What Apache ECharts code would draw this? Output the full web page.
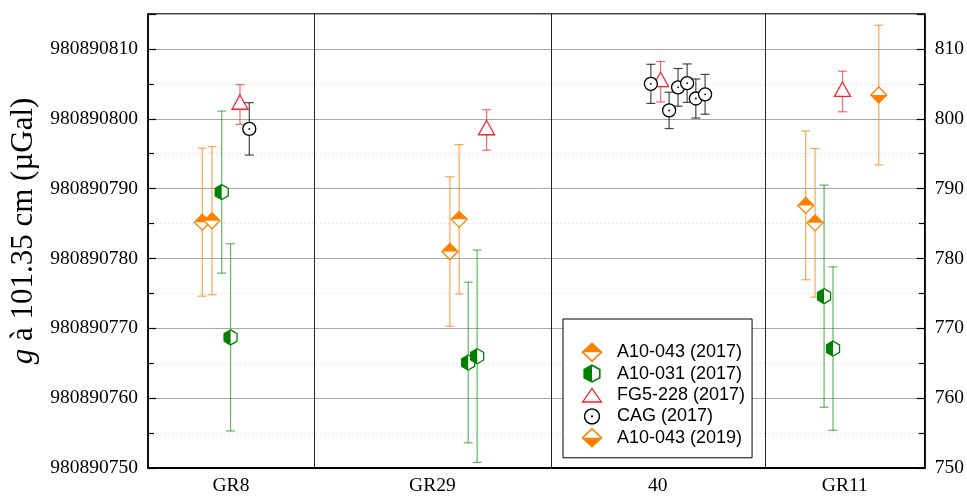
<!DOCTYPE html>
<html>
<head>
<meta charset="utf-8">
<script src="https://cdn.jsdelivr.net/npm/echarts@6/dist/echarts.min.js"></script>
<style>
  html, body { margin: 0; padding: 0; background: #fff; }
  #chart { width: 967px; height: 496px; }
</style>
</head>
<body>
<div id="chart"></div>
<script>
// ---------------- DATA ----------------
const BASE = 980890000;               // left axis = BASE + right-axis value (µGal)
const stations = ['GR8', 'GR29', '40', 'GR11'];
const stationBounds = [0, 21.36, 51.87, 79.41, 100];   // x-extent of each station panel

// A10-043 (2017)
const a043_2017_x = [6.99, 8.24, 38.87, 40.06, 84.68, 85.88];
const a043_2017_y = [785.2, 785.4, 781.0, 785.6, 787.6, 785.1];
const a043_2017_e = [10.6, 10.6, 10.7, 10.7, 10.65, 10.65];
// A10-031 (2017)
const a031_2017_x = [9.49, 10.63, 41.22, 42.38, 87.04, 88.19];
const a031_2017_y = [789.5, 768.7, 765.1, 766.0, 774.6, 767.1];
const a031_2017_e = [11.6, 13.4, 11.5, 15.2, 15.9, 11.7];
// FG5-228 (2017)
const fg5_2017_x = [11.84, 43.59, 65.99, 89.41];
const fg5_2017_y = [802.05, 798.4, 805.3, 803.9];
const fg5_2017_e = [2.85, 2.9, 2.9, 2.9];
// CAG (2017)
const cag_2017_x = [13.04, 64.74, 67.09, 68.24, 69.41, 70.53, 71.72];
const cag_2017_y = [798.55, 805.0, 801.2, 804.5, 805.1, 802.9, 803.5];
const cag_2017_e = [3.75, 2.8, 2.6, 2.7, 2.75, 2.8, 2.85];
// A10-043 (2019)
const a043_2019_x = [94.08];
const a043_2019_y = [803.4];
const a043_2019_e = [10.0];

const yTicks = [750, 760, 770, 780, 790, 800, 810];

// ---------------- HELPERS ----------------
function zip(x, y, e) { return x.map((v, i) => [v, y[i], e[i]]); }

function polyPath(pts) {
  return 'M' + pts.map(p => p[0].toFixed(3) + ' ' + p[1].toFixed(3)).join(' L') + ' Z';
}
// inset a convex polygon (clockwise on screen) by d
function inset(pts, d) {
  const n = pts.length, lines = [];
  for (let i = 0; i < n; i++) {
    const a = pts[i], b = pts[(i + 1) % n];
    const dx = b[0] - a[0], dy = b[1] - a[1], L = Math.hypot(dx, dy);
    const nx = -dy / L, ny = dx / L;
    lines.push({ px: a[0] + nx * d, py: a[1] + ny * d, dx: dx, dy: dy });
  }
  const out = [];
  for (let i = 0; i < n; i++) {
    const l1 = lines[(i - 1 + n) % n], l2 = lines[i];
    const den = l1.dx * l2.dy - l1.dy * l2.dx;
    const t = ((l2.px - l1.px) * l2.dy - (l2.py - l1.py) * l2.dx) / den;
    out.push([l1.px + l1.dx * t, l1.py + l1.dy * t]);
  }
  return out;
}
function ring(outer, d) {
  const inner = inset(outer, d);
  return { path: polyPath(outer) + ' ' + polyPath(inner.slice().reverse()), inner: inner };
}
// legend icons are drawn at 0.8 of the item box, so geometry is laid out 1.25x in a square frame
const ICON = 21.4;
const K = 1.25;
const C = ICON / 2;
const FRAME = 'M0 0 M' + ICON + ' ' + ICON + ' ';

function diamondPts(cx, cy, rx, ry) { return [[cx, cy - ry], [cx + rx, cy], [cx, cy + ry], [cx - rx, cy]]; }
function hexPts(cx, cy, w, h) { return [[cx, cy - h], [cx + w, cy - h / 2], [cx + w, cy + h / 2], [cx, cy + h], [cx - w, cy + h / 2], [cx - w, cy - h / 2]]; }
function triPts(cx, cy, w, up, down) { return [[cx, cy - up], [cx + w, cy + down], [cx - w, cy + down]]; }
function circPts(cx, cy, r, n) { const p = []; for (let i = 0; i < n; i++) { const a = 2 * Math.PI * i / n; p.push([cx + r * Math.cos(a), cy + r * Math.sin(a)]); } return p; }

function iconDiamond(top) {
  const o = diamondPts(C, C, 8.6 * K, 8.0 * K);
  const r = ring(o, 1.35 * K);
  const i = r.inner;
  const half = top ? [i[0], i[1], i[3]] : [i[3], i[1], i[2]];
  return 'path://' + FRAME + r.path + ' ' + polyPath(half);
}
function iconHex() {
  const o = hexPts(C, C, 6.9 * K, 7.4 * K);
  const r = ring(o, 1.3 * K);
  const i = r.inner;
  return 'path://' + FRAME + r.path + ' ' + polyPath([i[0], i[3], i[4], i[5]]);
}
function iconTri() {
  const o = triPts(C, C + 2 * K, 8.5 * K, 8.2 * K, 4.1 * K);
  return 'path://' + FRAME + ring(o, 1.05 * K).path;
}
function iconCirc() {
  const o = circPts(C, C, 6.5 * K, 40);
  return 'path://' + FRAME + ring(o, 1.15 * K).path + ' ' + polyPath(circPts(C, C, 0.9 * K, 12));
}

const LW = 1.3;
function markerShapes(kind, cx, cy, color) {
  const poly = (pts, style) => ({ type: 'polygon', shape: { points: pts }, style: style });
  if (kind === 'diamondTop' || kind === 'diamondBottom') {
    const p = diamondPts(cx, cy, 8, 8);
    const half = kind === 'diamondTop' ? [p[0], p[1], p[3]] : [p[3], p[1], p[2]];
    return [poly(p, { fill: '#fff', stroke: null }), poly(half, { fill: color, stroke: null }), poly(p, { fill: null, stroke: color, lineWidth: LW, lineJoin: 'miter' })];
  }
  if (kind === 'hexLeft') {
    const p = hexPts(cx, cy, 6.5, 7.5);
    const half = [p[0], p[3], p[4], p[5]];
    return [poly(p, { fill: '#fff', stroke: null }), poly(half, { fill: color, stroke: null }), poly(p, { fill: null, stroke: color, lineWidth: LW })];
  }
  if (kind === 'triangle') {
    const p = triPts(cx, cy, 8, 9.5, 4.8);
    return [poly(p, { fill: '#fff', stroke: color, lineWidth: LW })];
  }
  return [
    { type: 'circle', shape: { cx: cx, cy: cy, r: 6.5 }, style: { fill: '#fff', stroke: color, lineWidth: LW } },
    { type: 'circle', shape: { cx: cx, cy: cy, r: 0.9 }, style: { fill: color, stroke: null } }
  ];
}

function makeRender(kind, color, errColor) {
  return function (params, api) {
    const x = api.value(0), y = api.value(1), e = api.value(2);
    const p = api.coord([x, y]);
    const pt = api.coord([x, y + e]);
    const pb = api.coord([x, y - e]);
    const cap = 4.5;
    const es = { stroke: errColor, lineWidth: 1.2 };
    const children = [
      { type: 'line', shape: { x1: p[0], y1: pt[1], x2: p[0], y2: pb[1] }, style: es },
      { type: 'line', shape: { x1: p[0] - cap, y1: pt[1], x2: p[0] + cap, y2: pt[1] }, style: es },
      { type: 'line', shape: { x1: p[0] - cap, y1: pb[1], x2: p[0] + cap, y2: pb[1] }, style: es }
    ].concat(markerShapes(kind, p[0], p[1], color));
    return { type: 'group', children: children };
  };
}

const seriesDefs = [
  { name: 'A10-043 (2017)', data: zip(a043_2017_x, a043_2017_y, a043_2017_e), kind: 'diamondTop', color: '#ff8000', err: 'rgba(255,135,20,0.75)', icon: iconDiamond(true) },
  { name: 'A10-031 (2017)', data: zip(a031_2017_x, a031_2017_y, a031_2017_e), kind: 'hexLeft', color: '#008000', err: 'rgba(20,140,20,0.65)', icon: iconHex() },
  { name: 'FG5-228 (2017)', data: zip(fg5_2017_x, fg5_2017_y, fg5_2017_e), kind: 'triangle', color: '#ff2030', err: 'rgba(255,40,50,0.7)', icon: iconTri() },
  { name: 'CAG (2017)', data: zip(cag_2017_x, cag_2017_y, cag_2017_e), kind: 'circle', color: '#000000', err: 'rgba(0,0,0,0.72)', icon: iconCirc() },
  { name: 'A10-043 (2019)', data: zip(a043_2019_x, a043_2019_y, a043_2019_e), kind: 'diamondBottom', color: '#ff8000', err: 'rgba(255,135,20,0.75)', icon: iconDiamond(false) }
];

const stationCenters = stations.map((s, i) => (stationBounds[i] + stationBounds[i + 1]) / 2);
const dividers = stationBounds.slice(1, -1);

const SERIF = 'Liberation Serif';
const chart = echarts.init(document.getElementById('chart'), null, { renderer: 'canvas' });

const series = [{
  type: 'custom',
  name: '_dividers',
  silent: true,
  z: 1,
  data: dividers.map(v => [v]),
  renderItem: function (params, api) {
    const x = api.value(0);
    const a = api.coord([x, 750]);
    const b = api.coord([x, 815]);
    return { type: 'line', shape: { x1: Math.round(a[0]) + 0.5, y1: a[1], x2: Math.round(b[0]) + 0.5, y2: b[1] }, style: { stroke: '#222', lineWidth: 1 } };
  }
}].concat(seriesDefs.map(s => ({
  type: 'custom',
  name: s.name,
  z: 3,
  itemStyle: { color: s.color },
  encode: { x: 0, y: 1 },
  data: s.data,
  renderItem: makeRender(s.kind, s.color, s.err)
})));

const option = {
  animation: false,
  backgroundColor: '#fff',
  grid: { left: 148, right: 42, top: 14, bottom: 27, show: true, borderColor: '#000', borderWidth: 1.5, backgroundColor: 'transparent' },
  legend: {
    orient: 'vertical',
    left: 563,
    top: 319,
    padding: [22.6, 7, 9.4, 18.3],
    itemWidth: ICON,
    itemHeight: ICON,
    itemGap: 0,
    backgroundColor: '#fff',
    borderColor: '#000',
    borderWidth: 1,
    itemStyle: { borderWidth: 0 },
    textStyle: { fontFamily: 'Liberation Sans', fontSize: 18, color: '#000', padding: [0, 0, 0, 9.3], lineHeight: 18 },
    data: seriesDefs.map(s => ({ name: s.name, icon: s.icon, itemStyle: { color: s.color, borderWidth: 0 } })),
    selectedMode: false
  },
  xAxis: {
    type: 'value',
    min: 0,
    max: 100,
    splitLine: { show: false },
    axisTick: { show: false },
    axisLine: { lineStyle: { color: '#000', width: 2 } },
    axisLabel: {
      customValues: stationCenters,
      formatter: function (v) {
        let best = 0;
        stationCenters.forEach((c, i) => { if (Math.abs(c - v) < Math.abs(stationCenters[best] - v)) best = i; });
        return stations[best];
      },
      fontFamily: SERIF, fontSize: 19.5, color: '#000', margin: 8
    }
  },
  yAxis: [{
    type: 'value',
    min: 750,
    max: 815,
    interval: 10,
    position: 'left',
    name: '{i|g} à 101.35 cm (µGal)',
    nameLocation: 'middle',
    nameGap: 107,
    nameTextStyle: {
      fontFamily: SERIF, fontSize: 31, color: '#000', padding: [0, 0, 0, 20],
      rich: { i: { fontFamily: SERIF, fontSize: 31, fontStyle: 'italic', color: '#000' } }
    },
    axisLine: { show: true, lineStyle: { color: '#000', width: 1.5 } },
    axisTick: { show: true, inside: true, length: 8, lineStyle: { color: '#000', width: 1.2 } },
    minorTick: { show: true, splitNumber: 2, length: 6, lineStyle: { color: '#000', width: 1.2 } },
    axisLabel: {
      customValues: yTicks,
      formatter: v => String(BASE + v),
      fontFamily: SERIF, fontSize: 19.5, color: '#000', margin: 10
    },
    splitLine: { show: true, lineStyle: { color: '#a8a8a8', width: 1 } },
    minorSplitLine: { show: true, lineStyle: { color: '#d8d8d8', width: 1, type: [1, 3] } }
  }, {
    type: 'value',
    min: 750,
    max: 815,
    interval: 10,
    position: 'right',
    axisLine: { show: true, lineStyle: { color: '#000', width: 1.5 } },
    axisTick: { show: true, inside: true, length: 8, lineStyle: { color: '#000', width: 1.2 } },
    minorTick: { show: true, splitNumber: 2, length: 6, lineStyle: { color: '#000', width: 1.2 } },
    axisLabel: {
      customValues: yTicks,
      fontFamily: SERIF, fontSize: 19.5, color: '#000', margin: 10
    },
    splitLine: { show: false }
  }],
  series: series
};
chart.setOption(option);
</script>
</body>
</html>
